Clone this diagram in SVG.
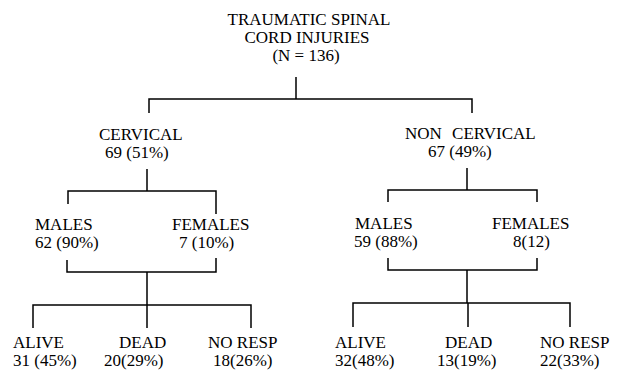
<svg xmlns="http://www.w3.org/2000/svg" width="621" height="376" viewBox="0 0 621 376">
<style>
text{font-family:"Liberation Serif","Times New Roman",serif;font-size:17px;fill:#000}
.c{text-anchor:middle}
#connectors path{fill:none;stroke:#000;stroke-width:1.5}
</style>
<rect width="621" height="376" fill="#fff"/>
<g id="connectors">
<path d="M296 77V99M149 113V99H472V113"/>
<path d="M147 169V191M68 204V191H216V214"/>
<path d="M467 168V190M388 202V190H537V202"/>
<path d="M67 260V272H216V258M147 272V305M33 328V305H251V328M147 305V328"/>
<path d="M388 258V270H537V258M467 270V303M353 327V303H570V327M468 303V327"/>
</g>
<g id="root">
<text class="c" x="309" y="25">TRAUMATIC SPINAL</text>
<text class="c" x="307" y="43">CORD INJURIES</text>
<text class="c" x="306" y="61">(N = 136)</text>
</g>
<g id="cervical">
<text x="99" y="140">CERVICAL</text>
<text x="105" y="158">69 (51%)</text>
</g>
<g id="noncervical">
<text x="405" y="139" style="word-spacing:6px">NON CERVICAL</text>
<text x="428" y="157">67 (49%)</text>
</g>
<g id="c-males">
<text x="35" y="230">MALES</text>
<text x="35" y="248">62 (90%)</text>
</g>
<g id="c-females">
<text x="172" y="230">FEMALES</text>
<text x="179" y="248">7 (10%)</text>
</g>
<g id="n-males">
<text x="355" y="229">MALES</text>
<text x="354" y="247">59 (88%)</text>
</g>
<g id="n-females">
<text x="492" y="229">FEMALES</text>
<text x="513" y="247">8(12)</text>
</g>
<g id="c-alive">
<text x="13" y="348">ALIVE</text>
<text x="13" y="366">31 (45%)</text>
</g>
<g id="c-dead">
<text x="119" y="348">DEAD</text>
<text x="104" y="366">20(29%)</text>
</g>
<g id="c-noresp">
<text x="208" y="348">NO RESP</text>
<text x="213" y="366">18(26%)</text>
</g>
<g id="n-alive">
<text x="335" y="348">ALIVE</text>
<text x="335" y="366">32(48%)</text>
</g>
<g id="n-dead">
<text x="445" y="348">DEAD</text>
<text x="437" y="366">13(19%)</text>
</g>
<g id="n-noresp">
<text x="540" y="348">NO RESP</text>
<text x="540" y="366">22(33%)</text>
</g>
</svg>
